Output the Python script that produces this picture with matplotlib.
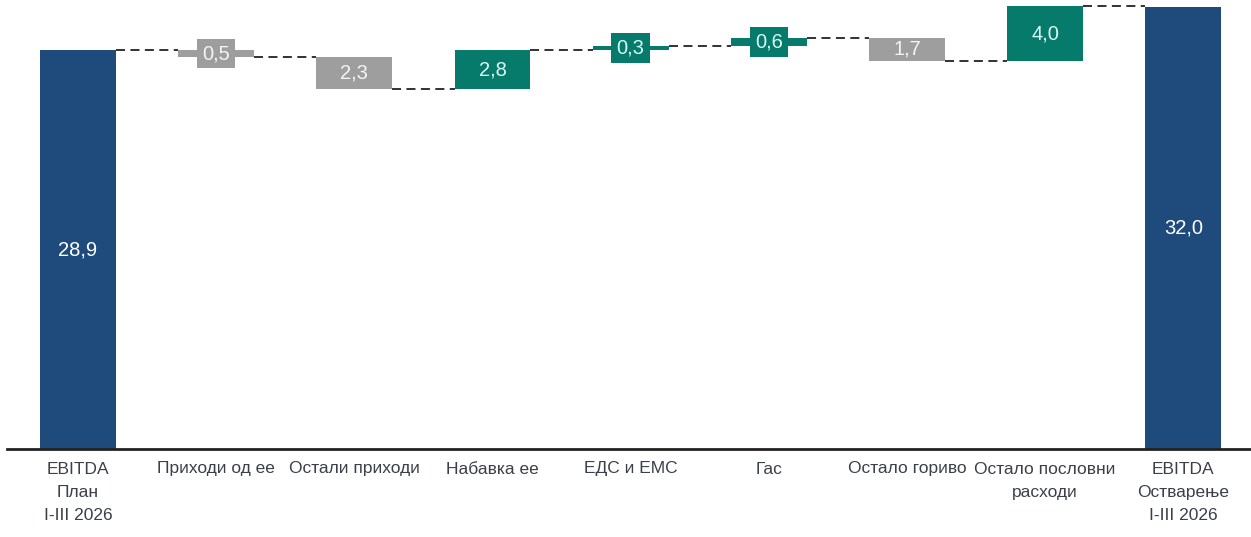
import matplotlib
matplotlib.use("Agg")
import matplotlib.pyplot as plt
from matplotlib import font_manager

names = {f.name for f in font_manager.fontManager.ttflist}
fam = "Liberation Sans Narrow" if "Liberation Sans Narrow" in names else "Liberation Sans"
plt.rcParams['font.family'] = [fam, 'DejaVu Sans']

categories = ["EBITDA\nПлан\nI-III 2026", "Приходи од ее", "Остали приходи", "Набавка ее",
              "ЕДС и ЕМС", "Гас", "Остало гориво", "Остало пословни\nрасходи",
              "EBITDA\nОстварење\nI-III 2026"]
start_value = 28.9
deltas = [-0.5, -2.3, 2.8, 0.3, 0.6, -1.7, 4.0]
end_value = 32.0

navy = "#1f4a7c"
teal = "#067a6b"
grey = "#9e9e9e"

fig = plt.figure(figsize=(12.51, 5.37), dpi=100)
ax = fig.add_axes([7/1251, 1 - 449/537, 1 - 7/1251, 449/537])
ax.set_xlim(-0.514, 8.49)
ax.set_ylim(0, 449/13.8)

w = 0.55
def fmt(v):
    return f"{abs(v):.1f}".replace(".", ",")

# start bar
ax.bar(0, start_value, width=w, color=navy)
ax.text(0, start_value/2, fmt(start_value), ha='center', va='center', color='white', fontsize=14.5)

levels = [start_value]
total = start_value
for i, d in enumerate(deltas, start=1):
    bottom = total if d > 0 else total + d
    col = teal if d > 0 else grey
    ax.bar(i, abs(d), bottom=bottom, width=w, color=col)
    tcol = "#d8fbf4" if d > 0 else "#f4f4f4"
    kw = {}
    if abs(d) < 1.0:
        kw['bbox'] = dict(boxstyle='square,pad=0.26', fc=col, ec='none')
    ax.text(i, bottom + abs(d)/2, fmt(d), ha='center', va='center', color=tcol, fontsize=14.5, **kw)
    total += d
    levels.append(total)

n = len(categories) - 1
ax.bar(n, end_value, width=w, color=navy)
ax.text(n, end_value/2, fmt(end_value), ha='center', va='center', color='white', fontsize=14.5)

# connectors
for i, lvl in enumerate(levels):
    ax.plot([i + w/2, i + 1 - w/2], [lvl, lvl], color='#222222', lw=1.3,
            linestyle=(0, (5, 3)), zorder=3)

ax.set_xticks(range(len(categories)))
ax.set_xticklabels(categories, fontsize=12.5, color='#3a3f4a', linespacing=1.7)
ax.tick_params(axis='x', length=0, pad=9)
ax.set_yticks([])
for s in ['top', 'right', 'left']:
    ax.spines[s].set_visible(False)
ax.spines['bottom'].set_linewidth(2)
ax.spines['bottom'].set_color('#222222')

fig.savefig("out.png", dpi=100)
